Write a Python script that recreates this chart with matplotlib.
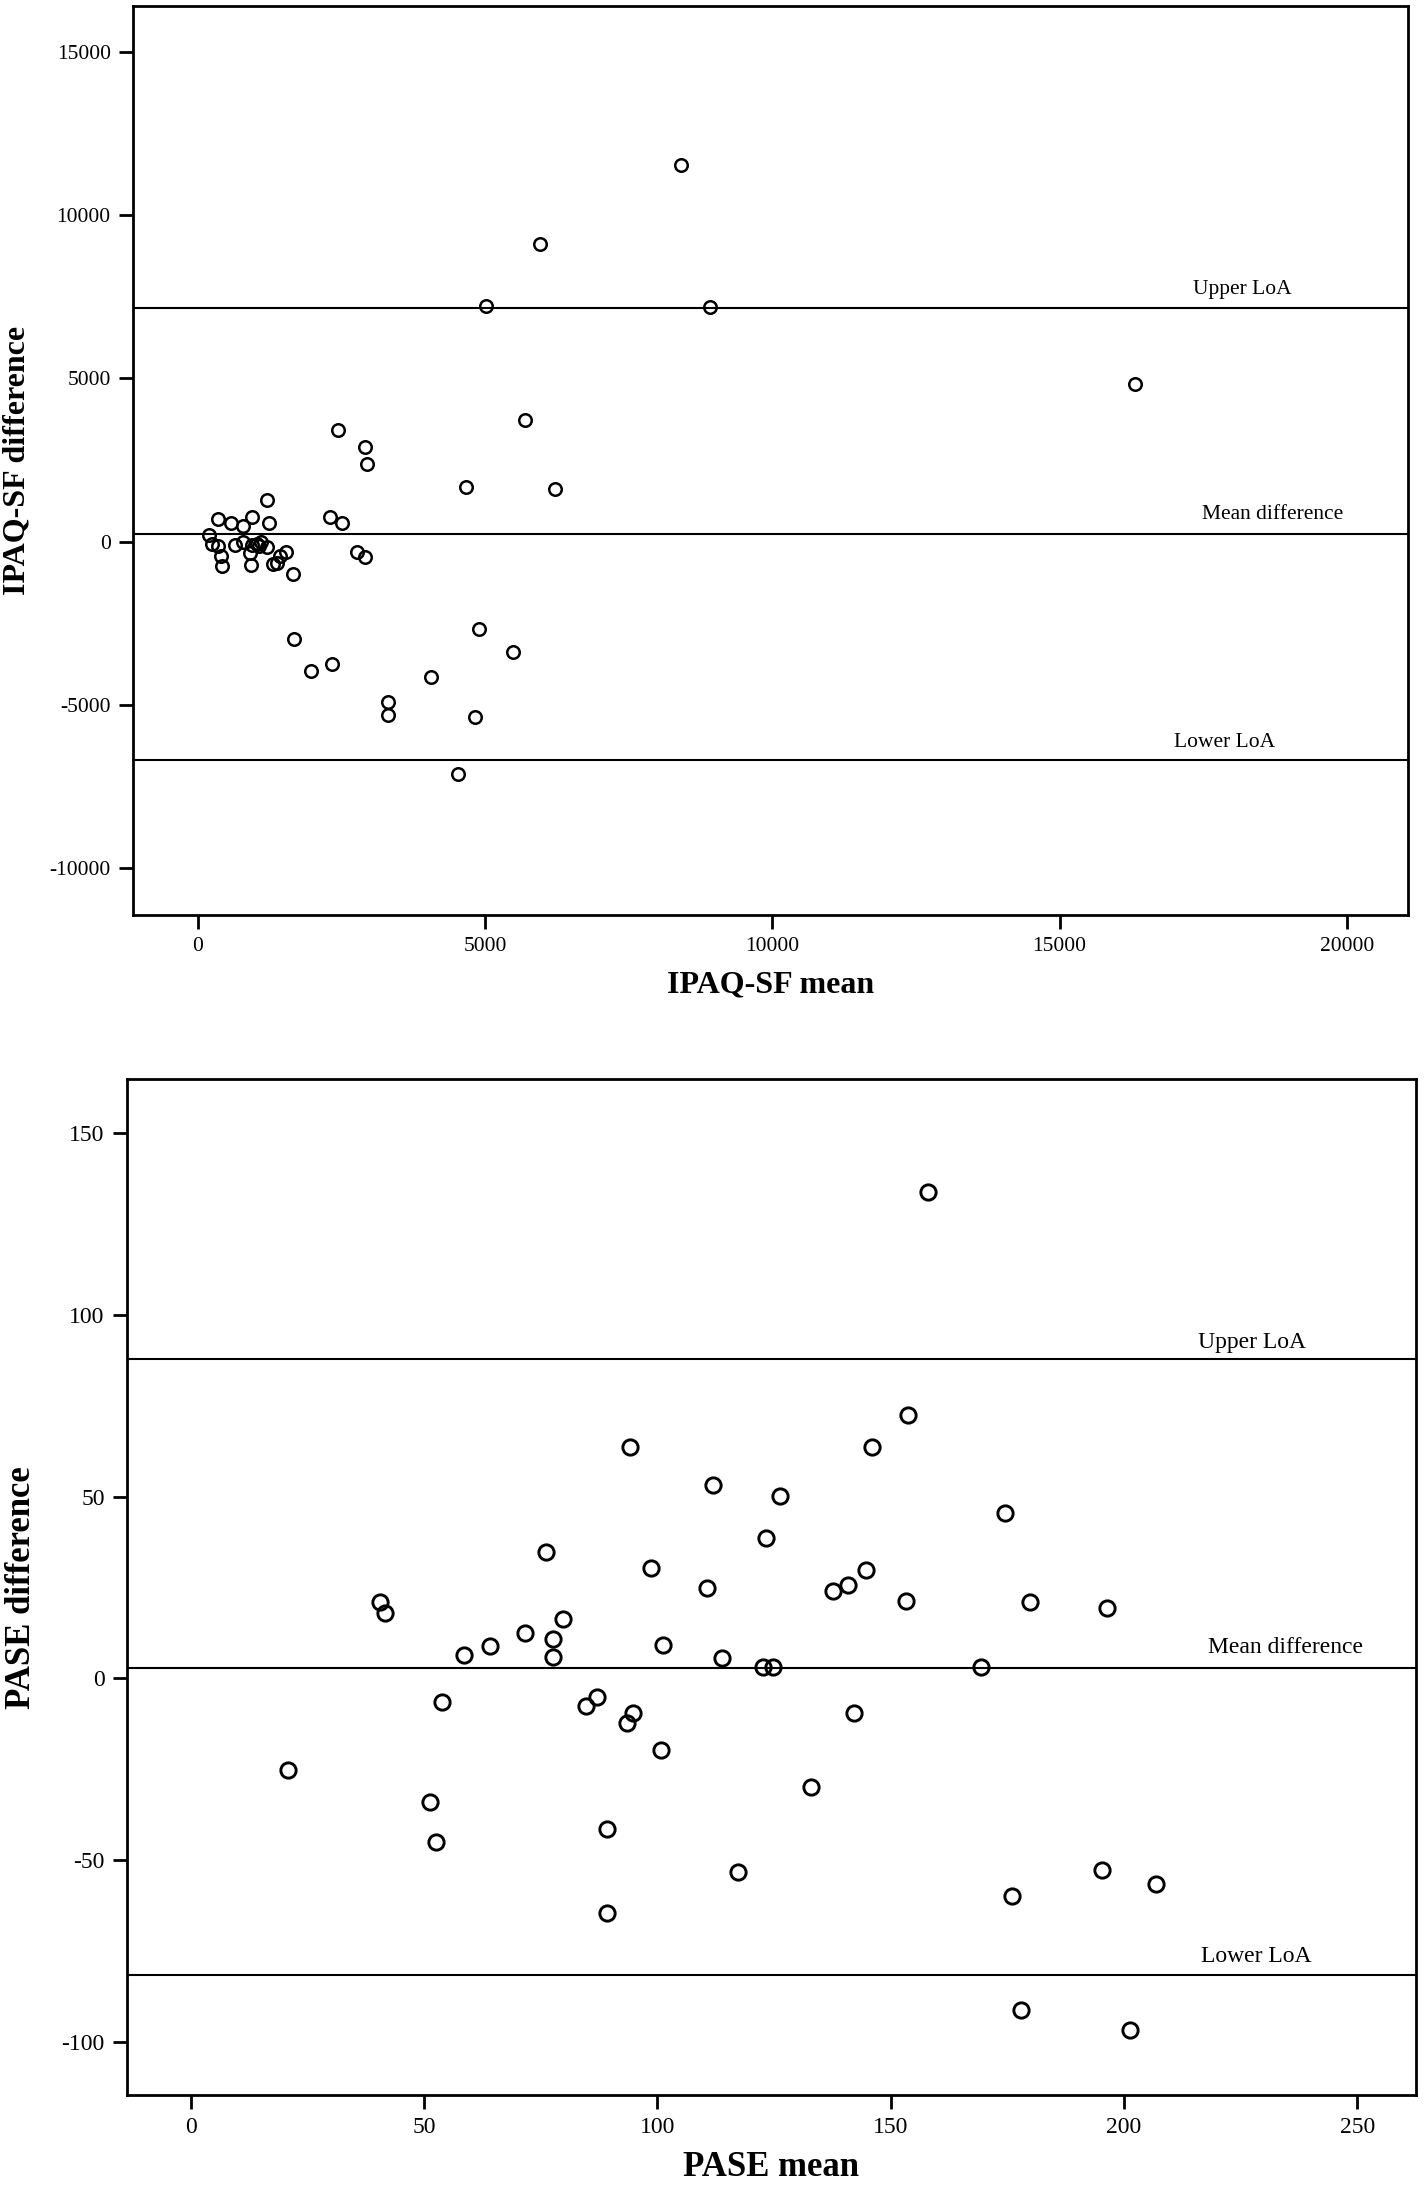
import matplotlib
matplotlib.use("Agg")
import matplotlib.pyplot as plt

plt.rcParams['font.family'] = ['Liberation Serif', 'DejaVu Serif']
plt.rcParams['axes.unicode_minus'] = False

# ---------------- IPAQ-SF data ----------------
ipaq_mean = [8408, 5961, 5009, 8924, 5694, 2450, 2910, 2940, 4670, 6210,
             16312, 1210, 350, 578, 940, 1248, 783, 2310, 2510, 203,
             243, 345, 652, 794, 940, 1073, 1200, 910, 405, 425,
             928, 1540, 1440, 1375, 1316, 1664, 2765, 2920, 1682, 4902,
             5493, 2332, 1972, 4066, 3318, 3318, 4832, 4537, 1030, 1100]
ipaq_diff = [11544, 9108, 7215, 7196, 3711, 3420, 2887, 2378, 1685, 1612,
             4826, 1260, 690, 560, 758, 560, 465, 750, 555, 215,
             -73, -130, -95, -3, -94, -135, -165, -339, -450, -747,
             -716, -315, -455, -640, -686, -992, -315, -481, -2982, -2666,
             -3390, -3738, -3952, -4136, -4901, -5309, -5381, -7102, -60, -10]
ipaq_lines = [7160, 224, -6700]
ipaq_line_labels = ["Upper LoA", "Mean difference", "Lower LoA"]
ipaq_xticks = [0, 5000, 10000, 15000, 20000]
ipaq_yticks = [-10000, -5000, 0, 5000, 10000, 15000]

# ---------------- PASE data ----------------
pase_mean = [158.1, 153.8, 94.1, 146.1, 111.9, 126.4, 174.5, 123.4, 76.1, 98.6,
             144.8, 110.7, 140.8, 137.7, 153.2, 179.8, 196.4, 40.5, 41.7, 79.8,
             71.6, 77.7, 77.7, 64.2, 58.5, 101.3, 113.8, 122.7, 124.8, 169.4,
             53.8, 87.0, 84.7, 94.7, 93.5, 142.2, 100.9, 20.9, 133.0, 51.3,
             52.6, 89.2, 117.4, 195.4, 206.8, 176.1, 89.2, 178.0, 201.3]
pase_diff = [133.9, 72.6, 63.8, 63.8, 53.3, 50.2, 45.5, 38.6, 34.8, 30.5,
             29.7, 25.0, 25.8, 24.0, 21.3, 20.9, 19.5, 20.9, 18.1, 16.3,
             12.4, 10.8, 5.9, 8.9, 6.5, 9.1, 5.7, 3.1, 3.1, 3.1,
             -6.5, -5.1, -7.5, -9.4, -12.2, -9.6, -19.7, -25.2, -29.9, -34.1,
             -45.1, -41.5, -53.3, -52.8, -56.5, -59.8, -64.4, -91.1, -96.7]
pase_lines = [88.0, 2.8, -81.5]
pase_line_labels = ["Upper LoA", "Mean difference", "Lower LoA"]
pase_xticks = [0, 50, 100, 150, 200, 250]
pase_yticks = [-100, -50, 0, 50, 100, 150]

W, H = 1424, 2188
fig = plt.figure(figsize=(W / 100, H / 100), dpi=100)


def make_axes(l, r, t, b):
    return fig.add_axes([l / W, 1 - b / H, (r - l) / W, (b - t) / H])


def style(ax, fs):
    for s in ax.spines.values():
        s.set_linewidth(2.0)
        s.set_color('black')
    ax.tick_params(direction='out', length=10, width=2.0, labelsize=fs,
                   pad=6, colors='black')


# ----- top panel -----
ax1 = make_axes(133, 1408, 6, 915)
style(ax1, 15.5)
ax1.plot(ipaq_mean, ipaq_diff, linestyle='none', marker='o', markersize=9,
         markerfacecolor='none', markeredgecolor='black', markeredgewidth=1.8)
for v in ipaq_lines:
    ax1.axhline(v, color='black', linewidth=1.5)
ax1.set_xlim(-1126, 21063)
ax1.set_ylim(-11433, 16400)
ax1.set_xticks(ipaq_xticks)
ax1.set_yticks(ipaq_yticks)
ipaq_label_pos = [(18175, 7734), (18714, 815), (17865, -6166)]
for (x, y), t in zip(ipaq_label_pos, ipaq_line_labels):
    ax1.text(x, y, t, fontsize=15.5, ha='center', va='center')

fig.text(771 / W, 1 - 985 / H, "IPAQ-SF mean", fontsize=23, fontweight='bold',
         ha='center', va='center')
fig.text(17 / W, 1 - 460 / H, "IPAQ-SF difference", fontsize=23,
         fontweight='bold', ha='center', va='center', rotation=90)

# ----- bottom panel -----
ax2 = make_axes(127, 1416, 1079, 2095)
style(ax2, 17)
ax2.plot(pase_mean, pase_diff, linestyle='none', marker='o', markersize=11,
         markerfacecolor='none', markeredgecolor='black', markeredgewidth=2.1)
for v in pase_lines:
    ax2.axhline(v, color='black', linewidth=1.5)
ax2.set_xlim(-13.65, 262.6)
ax2.set_ylim(-114.6, 164.9)
ax2.set_xticks(pase_xticks)
ax2.set_yticks(pase_yticks)
pase_label_pos = [(227.4, 92.5), (234.7, 8.6), (228.3, -76.6)]
for (x, y), t in zip(pase_label_pos, pase_line_labels):
    ax2.text(x, y, t, fontsize=17, ha='center', va='center')

fig.text(771 / W, 1 - 2168 / H, "PASE mean", fontsize=25, fontweight='bold',
         ha='center', va='center')
fig.text(22 / W, 1 - 1588 / H, "PASE difference", fontsize=25,
         fontweight='bold', ha='center', va='center', rotation=90)

fig.savefig("out.png", dpi=100, facecolor='white')
